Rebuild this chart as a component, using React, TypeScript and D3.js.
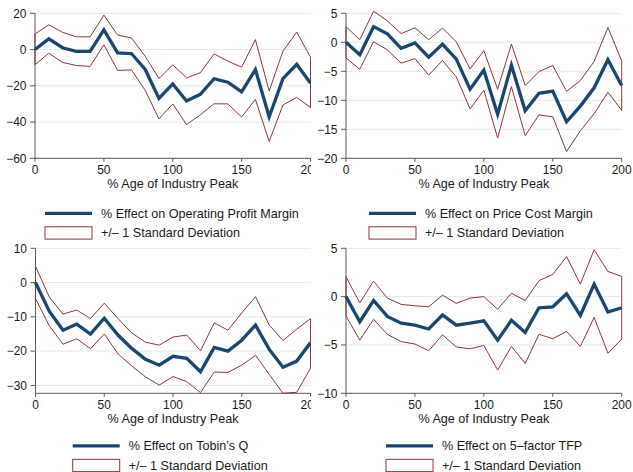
import React from "react";
import * as d3 from "d3";

// Age of the firm as a percentage of the industry peak (x positions shared by all panels)
const ages = [0, 10, 20, 30, 40, 50, 60, 70, 80, 90, 100, 110, 120, 130, 140, 150, 160, 170, 180, 190, 200];
const xTicks = [0, 50, 100, 150, 200];

// Operating profit margin
const opmEffect = [0, 5.9, 1, -1, -1, 10.8, -1.8, -2.2, -11, -27, -19, -28.4, -24.7, -16.1, -18, -23.4, -11, -37.2, -16.1, -8.2, -18.5];
const opmUpper = [8.6, 13.7, 9.5, 7, 7, 19, 8, 6.4, -3.7, -16, -8.4, -15.6, -12.8, -2.4, -6.4, -9.7, 5.5, -22.9, -0.9, 9.7, -4.2];
const opmLower = [-8.4, -2, -7.1, -8.8, -9.3, 2.6, -11.5, -11.2, -22.5, -38.3, -30, -41.4, -36, -29.9, -30, -37.2, -27.5, -50.7, -30.6, -26.4, -32];
const opmTicks = [20, 0, -20, -40, -60];

// Price cost margin
const pcmEffect = [0, -2.15, 2.7, 1.45, -1.05, -0.1, -2.55, -0.3, -2.9, -8.1, -4.8, -12.4, -3.95, -11.8, -8.8, -8.4, -13.7, -11, -7.85, -3, -7.45];
const pcmUpper = [2.7, 0.45, 5.35, 3.7, 1.5, 2.5, 0.45, 2.45, 0.1, -4.6, -1.45, -8.1, -0.3, -7.45, -5.05, -4, -8.45, -6.6, -3.3, 2.55, -3.2];
const pcmLower = [-2.7, -4.65, 0.1, -1.3, -3.6, -2.8, -5.65, -3.15, -5.95, -11.5, -8.25, -16.5, -7.65, -16.1, -12.5, -12.85, -18.85, -15.25, -12.3, -8.6, -11.75];
const pcmTicks = [5, 0, -5, -10, -15, -20];

// Tobin's Q
const tqEffect = [0, -8.35, -13.9, -12.1, -15, -10.4, -15.3, -19.2, -22.4, -24.1, -21.5, -22.1, -26, -18.9, -20, -16.8, -12.4, -19.5, -24.7, -22.9, -17.5];
const tqUpper = [4.75, -4.2, -9.2, -8, -10.5, -6, -10.5, -14.7, -17.4, -18.25, -15.9, -15.3, -19.9, -11.75, -13.9, -8.85, -4.1, -12.4, -16.9, -13.6, -10.5];
const tqLower = [-4.65, -12.6, -18, -16.4, -19.3, -15, -20.8, -24.3, -27.5, -29.9, -27.4, -28.9, -32.1, -26.1, -26.2, -24.1, -21.2, -26.8, -32.3, -32, -25];
const tqTicks = [10, 0, -10, -20, -30];

// 5-factor TFP
const tfpEffect = [0, -2.6, -0.4, -2.05, -2.75, -2.95, -3.35, -1.9, -2.95, -2.75, -2.5, -4.5, -2.45, -3.7, -1.15, -1.05, 0.3, -1.95, 1.3, -1.6, -1.15];
const tfpUpper = [2.05, -0.65, 1.6, -0.15, -0.8, -0.95, -1.05, 0.15, -0.7, -0.15, 0, -1.3, 0.35, -0.4, 1.65, 2.3, 4.15, 1.3, 4.85, 2.6, 2.1];
const tfpLower = [-2, -4.5, -2.35, -3.9, -4.65, -4.9, -5.6, -3.95, -5.2, -5.4, -5.05, -7.6, -5.15, -6.9, -3.9, -4.35, -3.6, -5.15, -2.15, -5.85, -4.4];
const tfpTicks = [5, 0, -5, -10];

const xTitle = "% Age of Industry Peak";
const bandLabel = "+/\u2013 1 Standard Deviation";

const BLUE = "#1a476f";
const RED = "#90353b";
const GRID = "#e2eaee";
const AXIS = "#595959";
const TEXT = "#1a1a1a";
const FONT = "'Liberation Sans', Arial, Helvetica, sans-serif";

type PanelSpec = {
  id: string;
  effect: number[];
  upper: number[];
  lower: number[];
  ticks: number[];
  yDomain: [number, number];
  label: string;
  x0: number;
  x1: number;
  yTop: number;
  yBottom: number;
  keyX: number;
  clipRight: number;
  legendLift: number;
};

const TOP_Y = 13.3;
const TOP_B = 158.3;
const BOT_Y = 248.3;
const BOT_B = 393.3;

const panels: PanelSpec[] = [
  {
    id: "opm", effect: opmEffect, upper: opmUpper, lower: opmLower, ticks: opmTicks,
    yDomain: [-60, 20], label: "% Effect on Operating Profit Margin",
    x0: 35, x1: 310.5, yTop: TOP_Y, yBottom: TOP_B, keyX: 45, clipRight: 311, legendLift: 0,
  },
  {
    id: "pcm", effect: pcmEffect, upper: pcmUpper, lower: pcmLower, ticks: pcmTicks,
    yDomain: [-20, 5], label: "% Effect on Price Cost Margin",
    x0: 346, x1: 621.7, yTop: TOP_Y, yBottom: TOP_B, keyX: 369, clipRight: 633, legendLift: 0,
  },
  {
    id: "tq", effect: tqEffect, upper: tqUpper, lower: tqLower, ticks: tqTicks,
    yDomain: [-32.3, 10], label: "% Effect on Tobin\u2019s Q",
    x0: 35.5, x1: 310.5, yTop: BOT_Y, yBottom: BOT_B, keyX: 72.7, clipRight: 311, legendLift: 2.5,
  },
  {
    id: "tfp", effect: tfpEffect, upper: tfpUpper, lower: tfpLower, ticks: tfpTicks,
    yDomain: [-10, 5], label: "% Effect on 5\u2013factor TFP",
    x0: 346, x1: 621.7, yTop: BOT_Y, yBottom: BOT_B, keyX: 386, clipRight: 633, legendLift: 2.5,
  },
];

const fmt = (v: number) => (v < 0 ? "\u2212" + Math.abs(v) : String(v));

function Panel({ p }: { p: PanelSpec }) {
  const x = d3.scaleLinear().domain([0, 200]).range([p.x0, p.x1]);
  const y = d3.scaleLinear().domain(p.yDomain).range([p.yBottom, p.yTop]);

  const line = d3
    .line<number>()
    .x((_, i) => x(ages[i]))
    .y((v) => y(v));

  // closed outline of the +/- 1 s.d. range
  const band =
    d3.line<[number, number]>().x((d) => x(d[0])).y((d) => y(d[1]))([
      ...ages.map((a, i) => [a, p.upper[i]] as [number, number]),
      ...ages
        .map((a, i) => [a, p.lower[i]] as [number, number])
        .reverse(),
    ]) + "Z";

  const titleY = p.yBottom + 25.3;
  const row1 = p.yBottom + 55 - p.legendLift;
  const row2 = p.yBottom + 74.6 - p.legendLift;
  const keyW = 47;
  const textX = p.keyX + 56;
  const clipId = "clip-" + p.id;

  return (
    <g>
      <defs>
        <clipPath id={clipId}>
          <rect x={0} y={0} width={p.clipRight} height={472} />
        </clipPath>
      </defs>
      <g clipPath={`url(#${clipId})`}>
        {/* grid */}
        {p.ticks.map((t) => (
          <line key={"g" + t} x1={p.x0} x2={p.x1} y1={y(t)} y2={y(t)} stroke={GRID} strokeWidth={1} />
        ))}
        {/* y axis */}
        <line x1={p.x0} x2={p.x0} y1={y(p.ticks[0])} y2={p.yBottom} stroke={AXIS} strokeWidth={1} />
        {p.ticks.map((t) => (
          <g key={"yt" + t}>
            <line x1={p.x0 - 5} x2={p.x0} y1={y(t)} y2={y(t)} stroke={AXIS} strokeWidth={1} />
            <text x={p.x0 - 8.5} y={y(t)} dy="0.36em" textAnchor="end" fontSize={12} fill={TEXT} fontFamily={FONT}>
              {fmt(t)}
            </text>
          </g>
        ))}
        {/* x axis */}
        <line x1={p.x0} x2={p.x1} y1={p.yBottom} y2={p.yBottom} stroke={AXIS} strokeWidth={1} />
        {xTicks.map((t) => (
          <g key={"xt" + t}>
            <line x1={x(t)} x2={x(t)} y1={p.yBottom} y2={p.yBottom + 3.5} stroke={AXIS} strokeWidth={1} />
            <text x={x(t)} y={p.yBottom + 7.5} dy="0.71em" textAnchor="middle" fontSize={12} fill={TEXT} fontFamily={FONT}>
              {t}
            </text>
          </g>
        ))}
        <text x={(p.x0 + p.x1) / 2} y={titleY} dy="0.35em" textAnchor="middle" fontSize={12.6} fill={TEXT} fontFamily={FONT}>
          {xTitle}
        </text>
        {/* series */}
        <path d={band} fill="none" stroke={RED} strokeWidth={1} strokeLinejoin="miter" />
        <path d={line(p.effect) ?? ""} fill="none" stroke={BLUE} strokeWidth={3.3} strokeLinejoin="miter" />
        {/* legend */}
        <line x1={p.keyX} x2={p.keyX + keyW} y1={row1} y2={row1} stroke={BLUE} strokeWidth={3.3} />
        <text x={textX} y={row1} dy="0.35em" fontSize={12.6} fill={TEXT} fontFamily={FONT}>
          {p.label}
        </text>
        <rect x={p.keyX} y={row2 - 6.1} width={keyW} height={12.3} fill="#ffffff" stroke={RED} strokeWidth={1} />
        <text x={textX} y={row2} dy="0.35em" fontSize={12.6} fill={TEXT} fontFamily={FONT}>
          {bandLabel}
        </text>
      </g>
    </g>
  );
}

export default function App() {
  return (
    <svg
      width={633}
      height={472}
      viewBox="0 0 633 472"
      style={{ position: "absolute", left: 0, top: 0, background: "#ffffff", display: "block" }}
    >
      <rect x={0} y={0} width={633} height={472} fill="#ffffff" />
      {panels.map((p) => (
        <Panel key={p.id} p={p} />
      ))}
    </svg>
  );
}
